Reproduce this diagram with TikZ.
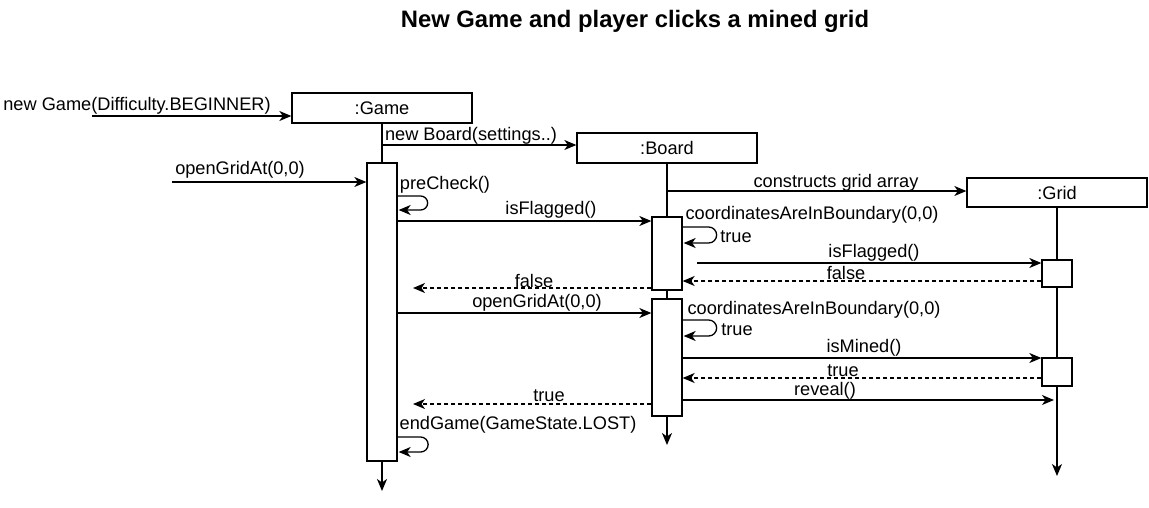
\documentclass[tikz,border=0pt]{standalone}
\usepackage{fontspec}
\setmainfont{Liberation Sans}
\usetikzlibrary{arrows.meta,backgrounds}
\begin{document}
\begin{tikzpicture}[x=1pt,y=-1pt,
  lbl/.style={inner sep=0pt, font=\fontsize{18.2}{20}\selectfont},
  ttl/.style={inner sep=0pt, font=\fontsize{23.8}{26}\selectfont\bfseries},
  obj/.style={draw, line width=1.3pt, fill=white, minimum width=180pt, minimum height=30pt, inner sep=0pt, font=\fontsize{18.2}{20}\selectfont},
  act/.style={draw, line width=1.3pt, fill=white, minimum width=30pt, inner sep=0pt},
  life/.style={line width=1.3pt},
  tipd/.style={-{Stealth[length=12pt,width=10pt,inset=3.5pt]}},
  msg/.style={line width=1.3pt, tipd},
  ret/.style={msg, dash pattern=on 4pt off 3pt},
]
\useasboundingbox (0,0) rectangle (1149,507);

\node[ttl] (title) at (635,21) {New Game and player clicks a mined grid};

% objects
\node[obj] (game)  at (382,108)   {:Game};
\node[obj] (board) at (667,148)   {:Board};
\node[obj, minimum height=29pt] (grid) at (1057,192.5) {:Grid};

% activations
\node[act, minimum height=298pt] (aG)  at (382,312) {};
\node[act, minimum height=73pt]  (aB1) at (667,253.5) {};
\node[act, minimum height=117pt] (aB2) at (667,357.5) {};
\node[act, minimum height=27pt]  (aR1) at (1057,273.5) {};
\node[act, minimum height=28pt]  (aR2) at (1057,372) {};

% free ends
\coordinate (gEnd) at (382,491);
\coordinate (bEnd) at (667,445);
\coordinate (rEnd) at (1057,476);
\coordinate (s1) at (92,116);
\coordinate (s2) at (172,182);
\coordinate (f2s) at (697,263);
\coordinate (fr1) at (413,288);
\coordinate (tr1) at (413,404);
\coordinate (rvE) at (1054,400);

\begin{scope}[on background layer]
  \draw[life] (game.south) -- (aG.north);
  \draw[life, tipd] (aG.south) -- (gEnd);
  \draw[life] (board.south) -- (aB1.north);
  \draw[life] (aB1.south) -- (aB2.north);
  \draw[life, tipd] (aB2.south) -- (bEnd);
  \draw[life, tipd] (grid.south) -- (rEnd);
\end{scope}

% incoming messages
\draw[msg] (s1) -- (game.west |- s1);
\node[lbl] (l1) at (137,106) {new Game(Difficulty.BEGINNER)};
\draw[msg] (s2) -- (aG.west |- s2);
\node[lbl] (l2) at (240,170) {openGridAt(0,0)};

% creation
\draw[msg] (game.south |- 0,145) -- (board.west |- 0,145);
\node[lbl] (l3) at (471,136) {new Board(settings..)};
\draw[msg] (board.south |- 0,191) -- (grid.west |- 0,191);
\node[lbl] (l4) at (836,183) {constructs grid array};

% preCheck self call
\draw[msg] (aG.east |- 0,196) -- ++(23,0) arc[start angle=-90, end angle=90, radius=7] -- ++(-22,0);
\node[lbl] (l5) at (445,185) {preCheck()};

% isFlagged
\draw[msg] (aG.east |- 0,221) -- (aB1.west |- 0,221);
\node[lbl] (l6) at (551,210) {isFlagged()};
\draw[msg] (aB1.east |- 0,227) -- ++(26,0) arc[start angle=-90, end angle=90, radius=8] -- ++(-25,0);
\node[lbl] (l7) at (812,215) {coordinatesAreInBoundary(0,0)};
\node[lbl] (l8) at (736,237) {true};
\draw[msg] (f2s) -- (aR1.west |- f2s);
\node[lbl] (l9) at (874,253) {isFlagged()};
\draw[ret] (aR1.west |- 0,281) -- (aB1.east |- 0,281);
\node[lbl] (l10) at (846,273) {false};
\draw[ret] (aB1.west |- fr1) -- (fr1);
\node[lbl] (l11) at (534,281) {false};

% openGridAt
\draw[msg] (aG.east |- 0,313) -- (aB2.west |- 0,313);
\node[lbl] (l12) at (537,303) {openGridAt(0,0)};
\draw[msg] (aB2.east |- 0,320) -- ++(26,0) arc[start angle=-90, end angle=90, radius=8] -- ++(-25,0);
\node[lbl] (l13) at (814,310) {coordinatesAreInBoundary(0,0)};
\node[lbl] (l14) at (737,330) {true};
\draw[msg] (aB2.east |- 0,358) -- (aR2.west |- 0,358);
\node[lbl] (l15) at (864,348) {isMined()};
\draw[ret] (aR2.west |- 0,378) -- (aB2.east |- 0,378);
\node[lbl] (l16) at (843,371) {true};
\draw[msg] (aB2.east |- rvE) -- (rvE);
\node[lbl] (l17) at (825,391) {reveal()};
\draw[ret] (aB2.west |- tr1) -- (tr1);
\node[lbl] (l18) at (549,396) {true};

% endGame
\draw[msg] (aG.east |- 0,437) -- ++(23,0) arc[start angle=-90, end angle=90, radius=7.5] -- ++(-22,0);
\node[lbl] (l19) at (518,425) {endGame(GameState.LOST)};
\end{tikzpicture}
\end{document}
